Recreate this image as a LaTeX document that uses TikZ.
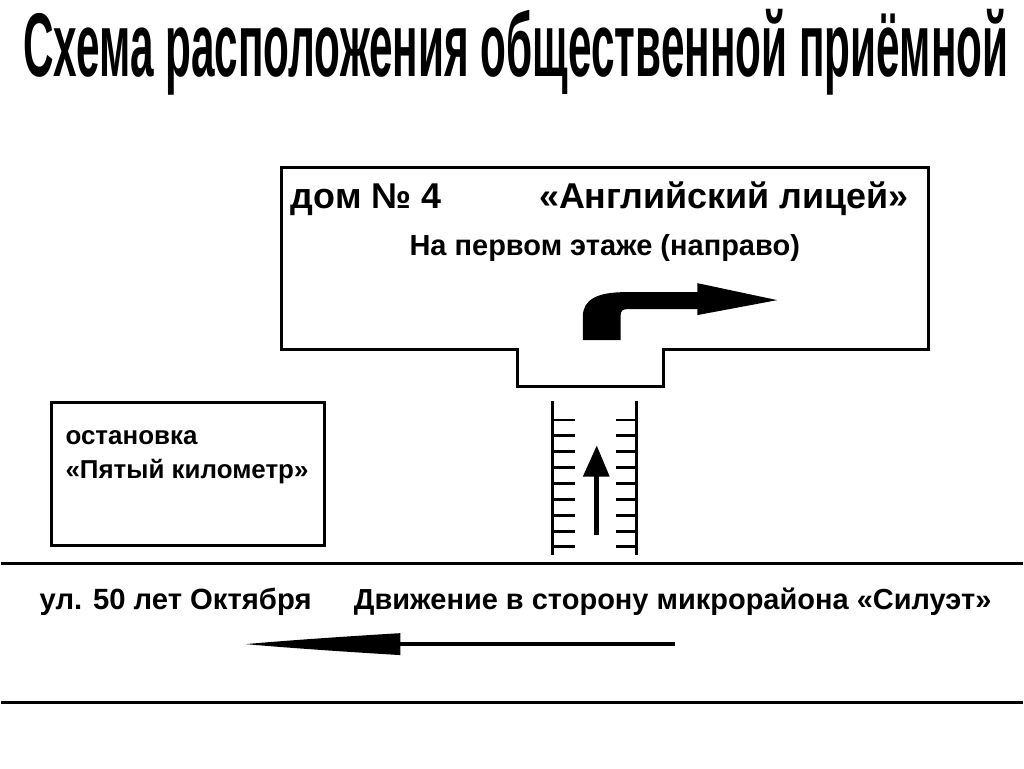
\documentclass[tikz,border=0pt]{standalone}
\usepackage{graphicx}
\usepackage{fontspec}
\setmainfont{Liberation Sans}
\begin{document}
\begin{tikzpicture}[x=0.75pt,y=0.75pt,yscale=-1,xscale=1]
%set diagram left start at 0, and has height of 771
\path (0,0) rectangle (1024,771);

%Shape: Polygon [id:building]
\draw [line width=2.25]  (281,168) -- (930,168) -- (930,351) -- (664,351) -- (664,388) -- (518,388) -- (518,351) -- (281,351) -- cycle ;
%Shape: Bent Arrow [id:turn]
\fill  (583,341) -- (583,318) .. controls (583,301) and (596,293) .. (626,293) -- (698,293) -- (698,284) -- (778,301) -- (698,316) -- (698,310) -- (628,310) .. controls (623,310) and (621,312) .. (621,316) -- (621,341) -- cycle ;
%Shape: Rectangle [id:stop]
\draw [line width=2.25]  (50,404) -- (324,404) -- (324,547) -- (50,547) -- cycle ;
%Straight Lines [id:zebraleft]
\draw [line width=2.25]    (553,402) -- (553,557) ;
%Straight Lines [id:zebraright]
\draw [line width=2.25]    (637,402) -- (637,557) ;
\foreach \y in {421,437,453,469,485,501,517,533,548}{
\draw [line width=1.9]    (553,\y) -- (575,\y) ;
\draw [line width=1.9]    (616,\y) -- (637,\y) ;
}
%Straight Lines [id:uparrow]
\draw [line width=3.5]    (597,537) -- (597,476) ;
\fill  (583,478) -- (597,447) -- (610,478) -- cycle ;
%Straight Lines [id:roadtop]
\draw [line width=2.25]    (0,565) -- (1024,565) ;
%Straight Lines [id:roadbottom]
\draw [line width=2.25]    (0,705) -- (1024,705) ;
%Straight Lines [id:leftarrow]
\draw [line width=3.2]    (675,646) -- (398,646) ;
\fill  (400,635) .. controls (350,638) and (290,642) .. (245,646) .. controls (290,650) and (350,654) .. (400,657) -- cycle ;

% Text Node
\draw (516,77) node [anchor=base][inner sep=0pt] (title) {\resizebox{741pt}{\height}{\fontsize{68}{70}\selectfont\bfseries Схема расположения общественной приёмной}};
% Text Node
\draw (290,209) node [anchor=base west][inner sep=0pt] (house) {\fontsize{27}{30}\selectfont\bfseries дом №~4};
% Text Node
\draw (910,209) node [anchor=base east][inner sep=0pt] (lyceum) {\fontsize{27}{30}\selectfont\bfseries «Английский лицей»};
% Text Node
\draw (605,256) node [anchor=base][inner sep=0pt] (floor) {\fontsize{21.8}{24}\selectfont\bfseries На первом этаже (направо)};
% Text Node
\draw (64,446) node [anchor=base west][inner sep=0pt] (stopname) {\fontsize{19.5}{22}\selectfont\bfseries остановка};
% Text Node
\draw (64,480) node [anchor=base west][inner sep=0pt] (stopname2) {\fontsize{19.5}{22}\selectfont\bfseries «Пятый километр»};
% Text Node
\draw (38,611) node [anchor=base west][inner sep=0pt] (street) {\fontsize{22}{25}\selectfont\bfseries ул. 50 лет Октября};
% Text Node
\draw (993,611) node [anchor=base east][inner sep=0pt] (traffic) {\fontsize{21.8}{25}\selectfont\bfseries Движение в сторону микрорайона «Силуэт»};

\end{tikzpicture}
\end{document}
